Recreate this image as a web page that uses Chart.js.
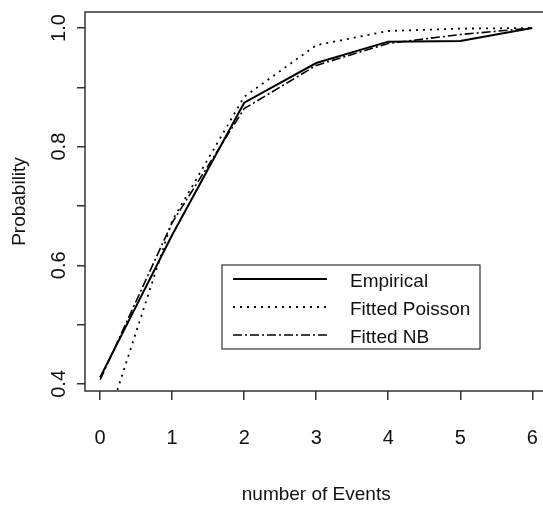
<!DOCTYPE html>
<html>
<head>
<meta charset="utf-8">
<script src="https://cdn.jsdelivr.net/npm/chart.js@4/dist/chart.umd.min.js"></script>
<style>
  html, body { margin: 0; padding: 0; background: #fff; overflow: hidden; }
  #wrap { width: 564px; height: 509px; }
</style>
</head>
<body>
<div id="wrap"><canvas id="chart" width="564" height="509"></canvas></div>
<script>
// number of events on the x axis
const events = [0, 1, 2, 3, 4, 5, 6];
// cumulative probabilities
const empirical = [0.411, 0.651, 0.874, 0.941, 0.977, 0.978, 1.0];
const fittedPoisson = [0.30, 0.675, 0.884, 0.971, 0.995, 0.999, 1.0];
const fittedNB = [0.407, 0.672, 0.864, 0.937, 0.974, 0.989, 1.0];

const seriesNames = ['Empirical', 'Fitted Poisson', 'Fitted NB'];
const xTicks = [0, 1, 2, 3, 4, 5, 6];
const yTicks = [0.4, 0.5, 0.6, 0.7, 0.8, 0.9, 1.0];
const yTickLabels = ['0.4', '', '0.6', '', '0.8', '', '1.0'];

const FONT = "'Liberation Sans', Arial, sans-serif";
const INK = '#111';

function points(values) {
  return events.map((x, i) => ({ x: x, y: values[i] }));
}

// box, rotated y labels and the legend, R style
const rStyle = {
  id: 'rStyle',
  afterDraw(chart) {
    const ctx = chart.ctx;
    const area = chart.chartArea;
    const yScale = chart.scales.y;

    ctx.save();
    ctx.strokeStyle = '#333';
    ctx.lineWidth = 1.5;
    ctx.strokeRect(area.left, area.top, area.right - area.left, area.bottom - area.top);

    // y tick labels, parallel to the axis
    ctx.fillStyle = INK;
    ctx.font = '20px ' + FONT;
    ctx.textAlign = 'center';
    ctx.textBaseline = 'middle';
    yTicks.forEach((v, i) => {
      if (!yTickLabels[i]) return;
      ctx.save();
      ctx.translate(59, yScale.getPixelForValue(v));
      ctx.rotate(-Math.PI / 2);
      ctx.fillText(yTickLabels[i], 0, 0);
      ctx.restore();
    });

    // legend
    const lx = 222, ly = 265, lw = 258, lh = 84;
    ctx.fillStyle = '#fff';
    ctx.fillRect(lx, ly, lw, lh);
    ctx.strokeStyle = '#333';
    ctx.lineWidth = 1.2;
    ctx.strokeRect(lx, ly, lw, lh);
    chart.data.datasets.forEach((ds, i) => {
      const rowY = ly + 14 + i * 28;
      ctx.strokeStyle = ds.borderColor;
      ctx.lineWidth = ds.borderWidth;
      ctx.setLineDash(ds.borderDash || []);
      ctx.beginPath();
      ctx.moveTo(lx + 11, rowY);
      ctx.lineTo(lx + 105, rowY);
      ctx.stroke();
      ctx.setLineDash([]);
      ctx.fillStyle = INK;
      ctx.textAlign = 'left';
      ctx.textBaseline = 'middle';
      ctx.font = '19px ' + FONT;
      ctx.fillText(ds.label, lx + 128, rowY + 3);
    });
    ctx.restore();
  }
};

new Chart(document.getElementById('chart'), {
  type: 'line',
  data: {
    datasets: [
      {
        label: seriesNames[0],
        data: points(empirical),
        borderColor: '#000',
        borderWidth: 2,
        pointRadius: 0,
        tension: 0
      },
      {
        label: seriesNames[1],
        data: points(fittedPoisson),
        borderColor: '#000',
        borderWidth: 1.8,
        borderDash: [2, 5],
        pointRadius: 0,
        tension: 0
      },
      {
        label: seriesNames[2],
        data: points(fittedNB),
        borderColor: '#000',
        borderWidth: 1.6,
        borderDash: [9, 3, 2, 3],
        pointRadius: 0,
        tension: 0
      }
    ]
  },
  options: {
    responsive: false,
    animation: false,
    layout: { padding: { top: 12, right: 4, left: 0, bottom: 0 } },
    plugins: {
      legend: { display: false },
      tooltip: { enabled: false }
    },
    scales: {
      x: {
        type: 'linear',
        min: -0.21,
        max: 6.21,
        afterBuildTicks: (scale) => { scale.ticks = xTicks.map(v => ({ value: v })); },
        afterFit: (scale) => { scale.height = 118; },
        grid: { drawOnChartArea: false, drawTicks: true, tickLength: 9, tickColor: '#333', lineWidth: 1.5 },
        border: { display: false },
        ticks: { color: INK, font: { family: FONT, size: 20 }, padding: 26, maxRotation: 0 },
        title: {
          display: true,
          text: 'number of Events',
          color: INK,
          font: { family: FONT, size: 19 },
          padding: { top: 0, bottom: 3 }
        }
      },
      y: {
        min: 0.388,
        max: 1.027,
        afterBuildTicks: (scale) => { scale.ticks = yTicks.map(v => ({ value: v })); },
        afterFit: (scale) => { scale.width = 85; },
        grid: { drawOnChartArea: false, drawTicks: true, tickLength: 8, tickColor: '#333', lineWidth: 1.5 },
        border: { display: false },
        ticks: { display: false },
        title: {
          display: true,
          text: 'Probability',
          color: INK,
          font: { family: FONT, size: 19 },
          padding: { top: 8, bottom: 0 }
        }
      }
    }
  },
  plugins: [rStyle]
});
</script>
</body>
</html>
